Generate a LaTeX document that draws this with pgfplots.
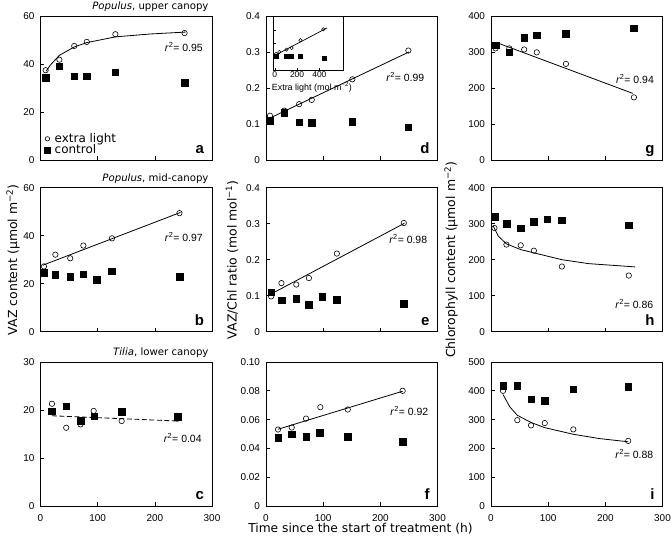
\documentclass[border=0pt]{standalone}
\usepackage{pgfplots}
\pgfplotsset{compat=1.18}
\usepackage{fontspec}
\setmainfont{Liberation Sans}
\newfontfamily\verd{DejaVu Sans}

\pgfplotsset{
  panel/.style={
    scale only axis, width=171.5bp, height=144bp,
    anchor=south west,
    xmin=0, xmax=300, xtick={0,100,200,300}, xticklabels={},
    tick align=inside, xtick pos=bottom, ytick pos=left,
    major tick length=3.5bp,
    tick style={black, line width=0.6bp},
    axis line style={line width=0.8bp},
    ticklabel style={font=\fontsize{10}{11}\selectfont},
    yticklabel style={xshift=-2.5bp},
    xticklabel style={yshift=-5bp},
    /pgf/number format/assume math mode=true,
    clip=false,
  },
  bottomrow/.style={xticklabels={0,100,200,300}},
  open/.style={only marks, mark=o, mark size=2.7bp, mark options={line width=0.6bp, fill=white, draw=black}},
  filled/.style={only marks, mark=square*, mark size=3.3bp, mark options={black}},
  fit/.style={no marks, black, line width=0.8bp},
}
\tikzset{
  rtwo/.style={anchor=east, font=\fontsize{10.5}{12}\selectfont},
  letter/.style={anchor=base east, font=\bfseries\fontsize{15}{16}\selectfont},
  ptitle/.style={anchor=base east, font=\verd\fontsize{10.2}{12}\selectfont},
}

\begin{document}
\begin{tikzpicture}[x=1bp,y=1bp]

%%%%% row 1: Populus, upper canopy
\begin{axis}[panel, at={(40.5bp,385bp)}, ymin=0, ymax=60, ytick={0,20,40,60},
  legend style={at={(axis cs:6,1.0)}, anchor=south west, draw=none, fill=none,
    font=\verd\fontsize{12}{13}\selectfont, row sep=-2.3bp, column sep=3bp,
    inner sep=0.5bp, nodes={inner sep=1.5bp}},
  legend cell align=left,
  legend image code/.code={\draw[#1] plot coordinates {(0bp,0bp)};}]
\addlegendimage{open, mark size=2.2bp}\addlegendentry{extra light}
\addlegendimage{filled, mark size=2.8bp}\addlegendentry{control}
\addplot[fit, forget plot] coordinates {(10,37.0) (17,39.5) (33,43.6) (59,47.1) (81,48.9) (131,51.3) (192,52.5) (254,53.3)};
\addplot[filled, forget plot] coordinates {(9,34.4) (33,39.1) (59,34.9) (81,34.9) (131,36.6) (252,32.1)};
\addplot[open, forget plot] coordinates {(9,37.4) (33,41.8) (59,47.5) (81,49.2) (131,52.4) (252,52.9)};
\node[ptitle] at (rel axis cs:1,1) [yshift=6.5bp] {\textit{Populus}, upper canopy};
\node[rtwo] at (axis cs:290,47) {\textit{r}\textsuperscript{2}= 0.95};
\node[letter] at (rel axis cs:1,0) [xshift=-4.5bp, yshift=6bp] {a};
\end{axis}

\begin{axis}[panel, at={(266bp,385bp)}, ymin=0, ymax=0.4, ytick={0,0.1,0.2,0.3,0.4},
  yticklabels={0,0.1,0.2,0.3,0.4}]
\addplot[fit] coordinates {(5,0.115) (250,0.300)};
\addplot[filled] coordinates {(7,0.109) (32,0.131) (58,0.105) (80,0.103) (151,0.106) (249,0.091)};
\addplot[open] coordinates {(7,0.123) (32,0.137) (58,0.155) (80,0.167) (151,0.224) (249,0.304)};
\node[rtwo] at (axis cs:283,0.23) {\textit{r}\textsuperscript{2}= 0.99};
\node[letter] at (rel axis cs:1,0) [xshift=-4.5bp, yshift=6bp] {d};
\end{axis}

% inset of d
\begin{axis}[scale only axis, width=69.3bp, height=54.4bp, anchor=south west,
  at={(273.7bp,474.3bp)}, xmin=-10, xmax=612, ymin=0, ymax=0.4,
  xtick={0,200,400}, ytick={0.1,0.2,0.3}, yticklabels={},
  tick align=inside, xtick pos=bottom, ytick pos=left,
  major tick length=2.5bp, tick style={black, line width=0.5bp},
  axis line style={line width=0.7bp}, axis background/.style={fill=white},
  ticklabel style={font=\fontsize{8.5}{9}\selectfont, inner sep=1bp},
  /pgf/number format/assume math mode=true, clip=false]
\addplot[fit, line width=0.7bp] coordinates {(0,0.112) (470,0.315)};
\addplot[only marks, mark=square*, mark size=2bp] coordinates {(10,0.109) (100,0.105) (145,0.103) (230,0.106) (440,0.091)};
\addplot[only marks, mark=o, mark size=1.7bp, mark options={line width=0.5bp, fill=white}] coordinates {(10,0.123) (40,0.137) (105,0.155) (150,0.167) (230,0.224) (435,0.304)};
\node[font=\fontsize{9}{10}\selectfont] at (rel axis cs:0.55,0) [yshift=-16.3bp] {Extra light (mol m\textsuperscript{−2})};
\end{axis}

\begin{axis}[panel, at={(491bp,385bp)}, ymin=0, ymax=400, ytick={0,100,200,300,400}]
\addplot[fit] coordinates {(10,326) (248,185)};
\addplot[filled] coordinates {(8,319) (32,299) (58,340) (80,347) (131,350) (250,366)};
\addplot[open] coordinates {(8,310) (32,310) (58,307) (80,299) (131,267) (250,174)};
\node[rtwo] at (axis cs:291,225) {\textit{r}\textsuperscript{2}= 0.94};
\node[letter] at (rel axis cs:1,0) [xshift=-4.5bp, yshift=6bp] {g};
\end{axis}

%%%%% row 2: Populus, mid-canopy
\begin{axis}[panel, at={(40.5bp,213.3bp)}, ymin=0, ymax=60, ytick={0,20,40,60}]
\addplot[fit] coordinates {(4,27.7) (245,49.7)};
\addplot[filled] coordinates {(6,24.7) (26,23.7) (52,23.0) (75,24.0) (98,21.7) (125,25.2) (243,23.0)};
\addplot[open] coordinates {(6,27.2) (26,32.1) (52,30.6) (75,35.9) (125,38.9) (243,49.4)};
\node[ptitle] at (rel axis cs:1,1) [yshift=6.5bp] {\textit{Populus}, mid-canopy};
\node[rtwo] at (axis cs:290,39.5) {\textit{r}\textsuperscript{2}= 0.97};
\node[letter] at (rel axis cs:1,0) [xshift=-4.5bp, yshift=6bp] {b};
\end{axis}

\begin{axis}[panel, at={(266bp,213.3bp)}, ymin=0, ymax=0.4, ytick={0,0.1,0.2,0.3,0.4},
  yticklabels={0,0.1,0.2,0.3,0.4}]
\addplot[fit] coordinates {(8,0.104) (242,0.301)};
\addplot[filled] coordinates {(9,0.110) (27,0.087) (53,0.092) (75,0.075) (98,0.097) (124,0.089) (241,0.078)};
\addplot[open] coordinates {(9,0.098) (27,0.135) (53,0.131) (75,0.149) (124,0.217) (241,0.302)};
\node[rtwo] at (axis cs:288,0.257) {\textit{r}\textsuperscript{2}= 0.98};
\node[letter] at (rel axis cs:1,0) [xshift=-4.5bp, yshift=6bp] {e};
\end{axis}

\begin{axis}[panel, at={(491bp,213.3bp)}, ymin=0, ymax=400, ytick={0,100,200,300,400}]
\addplot[fit] coordinates {(4,293) (13,265) (27,244) (52,228) (75,219) (124,200) (171,189) (252,180)};
\addplot[filled] coordinates {(6,319) (27,300) (52,288) (75,306) (98,313) (124,310) (241,296)};
\addplot[open] coordinates {(6,288) (27,242) (52,240) (75,225) (124,181) (241,156)};
\node[rtwo] at (axis cs:290,76) {\textit{r}\textsuperscript{2}= 0.86};
\node[letter] at (rel axis cs:1,0) [xshift=-4.5bp, yshift=6bp] {h};
\end{axis}

%%%%% row 3: Tilia, lower canopy
\begin{axis}[panel, bottomrow, at={(40.5bp,39bp)}, ymin=0, ymax=30, ytick={0,10,20,30}]
\addplot[fit, dashed, dash pattern=on 5bp off 2.5bp] coordinates {(20,18.8) (240,17.7)};
\addplot[filled] coordinates {(20,19.75) (45,20.8) (70,17.8) (94,18.7) (142,19.6) (240,18.6)};
\addplot[open] coordinates {(20,21.3) (45,16.3) (70,17.0) (93,19.8) (142,17.7) (240,18.2)};
\node[ptitle] at (rel axis cs:1,1) [yshift=6.5bp] {\textit{Tilia}, lower canopy};
\node[rtwo] at (axis cs:288,14.2) {\textit{r}\textsuperscript{2}= 0.04};
\node[letter] at (rel axis cs:1,0) [xshift=-4.5bp, yshift=6bp] {c};
\end{axis}

\begin{axis}[panel, bottomrow, at={(266bp,39bp)}, ymin=0, ymax=0.1,
  ytick={0,0.02,0.04,0.06,0.08,0.1}, yticklabels={0,0.02,0.04,0.06,0.08,0.10}]
\addplot[fit] coordinates {(21,0.0533) (239,0.0797)};
\addplot[filled] coordinates {(21,0.0473) (45,0.0499) (70,0.0483) (94,0.0508) (143,0.0483) (239,0.0448)};
\addplot[open] coordinates {(21,0.0531) (45,0.0545) (70,0.0607) (95,0.0686) (143,0.067) (239,0.080)};
\node[rtwo] at (axis cs:290,0.066) {\textit{r}\textsuperscript{2}= 0.92};
\node[letter] at (rel axis cs:1,0) [xshift=-4.5bp, yshift=6bp] {f};
\end{axis}

\begin{axis}[panel, bottomrow, at={(491bp,39bp)}, ymin=0, ymax=500, ytick={0,100,200,300,400,500}]
\addplot[fit] coordinates {(21,387) (33,344) (46,315) (70,290) (94,272) (144,249) (190,234) (240,223)};
\addplot[filled] coordinates {(21,417) (46,417) (70,371) (94,366) (144,405) (240,415)};
\addplot[open] coordinates {(21,400) (46,298) (70,280) (94,288) (144,266) (240,226)};
\node[rtwo] at (axis cs:290,180) {\textit{r}\textsuperscript{2}= 0.88};
\node[letter] at (rel axis cs:1,0) [xshift=-4.5bp, yshift=6bp] {i};
\end{axis}

%%%%% shared labels
\node[rotate=90, font=\verd\fontsize{12.5}{14}\selectfont] at (13,285.3) {VAZ content (µmol m\textsuperscript{−2})};
\node[rotate=90, font=\verd\fontsize{12.5}{14}\selectfont] at (232,285.3) {VAZ/Chl ratio (mol mol\textsuperscript{−1})};
\node[rotate=90, font=\verd\fontsize{12.5}{14}\selectfont] at (451,285.3) {Chlorophyll content (µmol m\textsuperscript{−2})};
\node[font=\verd\fontsize{12.3}{14}\selectfont] at (360.5,16) {Time since the start of treatment (h)};

\pgfresetboundingbox
\useasboundingbox (0,0) rectangle (672,545);
\end{tikzpicture}
\end{document}
